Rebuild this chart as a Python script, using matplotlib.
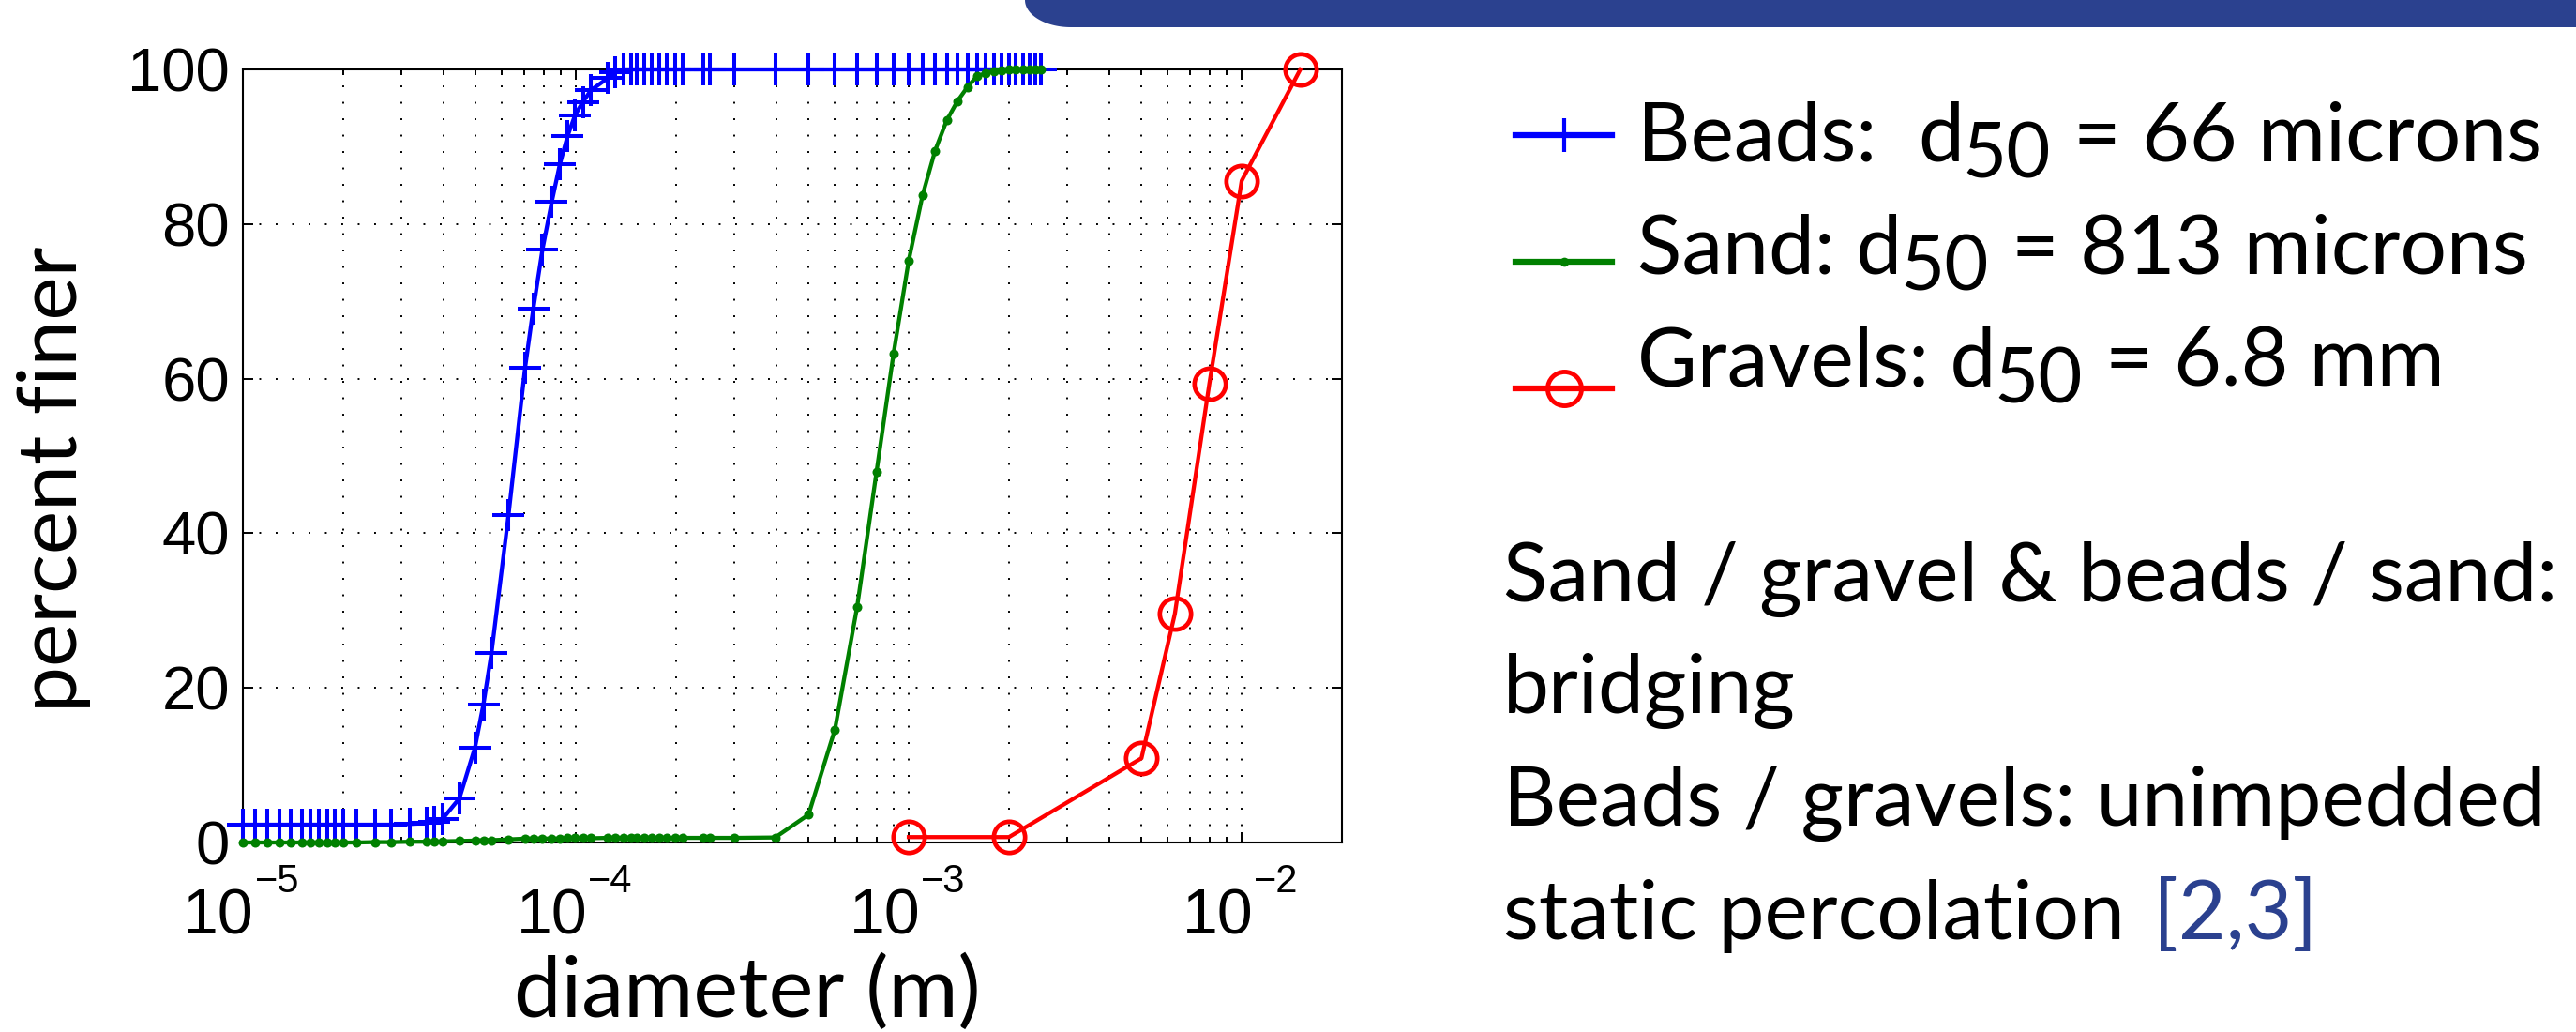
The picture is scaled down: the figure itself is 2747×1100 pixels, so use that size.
import numpy as np
import matplotlib
matplotlib.use('Agg')
import matplotlib.pyplot as plt
from matplotlib.lines import Line2D
from matplotlib.patches import Polygon
from matplotlib.ticker import FixedLocator, LogLocator, NullFormatter

# diameters (m) shared by the beads and sand curves
diam = [1.00e-5, 1.09e-5, 1.18e-5, 1.29e-5, 1.39e-5, 1.50e-5, 1.60e-5, 1.69e-5, 1.79e-5, 1.89e-5,
        2.00e-5, 2.19e-5, 2.50e-5, 2.79e-5, 3.18e-5, 3.56e-5, 3.76e-5, 3.97e-5,
        4.47e-5, 4.98e-5, 5.28e-5, 5.58e-5, 6.28e-5, 7.04e-5, 7.45e-5, 7.94e-5,
        8.47e-5, 8.95e-5, 9.45e-5, 9.95e-5, 1.05e-4, 1.11e-4, 1.25e-4, 1.31e-4,
        1.39e-4, 1.47e-4, 1.52e-4, 1.60e-4, 1.69e-4, 1.78e-4, 1.88e-4, 1.99e-4,
        2.10e-4, 2.42e-4, 2.52e-4, 2.99e-4, 3.97e-4, 5.0e-4, 6.0e-4, 7.0e-4,
        8.0e-4, 9.0e-4, 1.0e-3, 1.1e-3, 1.2e-3, 1.3e-3, 1.4e-3, 1.5e-3,
        1.6e-3, 1.7e-3, 1.8e-3, 1.9e-3, 2.0e-3, 2.1e-3, 2.2e-3, 2.3e-3, 2.4e-3, 2.5e-3]

beads = [2.3, 2.3, 2.3, 2.3, 2.3, 2.3, 2.3, 2.3, 2.3, 2.3,
         2.3, 2.3, 2.3, 2.3, 2.4, 2.5, 2.7, 3.0,
         5.7, 12.3, 17.9, 24.5, 42.4, 61.4, 69.0, 76.7,
         82.9, 87.7, 91.4, 94.1, 95.8, 97.3, 98.9, 99.6,
         100, 100, 100, 100, 100, 100, 100, 100,
         100, 100, 100, 100, 100, 100, 100, 100,
         100, 100, 100, 100, 100, 100, 100, 100,
         100, 100, 100, 100, 100, 100, 100, 100, 100, 100]

sand = [0, 0, 0, 0, 0, 0, 0, 0, 0, 0,
        0, 0, 0.05, 0.05, 0.1, 0.1, 0.1, 0.15,
        0.2, 0.25, 0.3, 0.3, 0.4, 0.5, 0.5, 0.5,
        0.5, 0.5, 0.55, 0.55, 0.55, 0.55, 0.6, 0.6,
        0.6, 0.6, 0.6, 0.6, 0.6, 0.6, 0.6, 0.6,
        0.6, 0.6, 0.6, 0.6, 0.65, 3.6, 14.6, 30.5,
        47.9, 63.2, 75.3, 83.7, 89.5, 93.4, 95.9, 97.7,
        99.1, 99.5, 99.8, 99.9, 100, 100, 100, 100, 100, 100]

gravel_d = [1e-3, 2e-3, 5e-3, 6.3e-3, 8e-3, 1e-2, 1.5e-2]
gravel_pct = [0.7, 0.7, 10.9, 29.6, 59.4, 85.6, 100]

x_major = [1e-5, 1e-4, 1e-3, 1e-2]
y_major = [0, 20, 40, 60, 80, 100]

legend_rows = [("Beads:  d", "50", "= 66 microns"),
               ("Sand: d", "50", "= 813 microns"),
               ("Gravels: d", "50", "= 6.8 mm")]
notes = ["Sand / gravel & beads / sand:", "bridging",
         "Beads / gravels: unimpedded", "static percolation"]
ref_text = "[2,3]"

blue = (0, 0, 1)
green = (0, 0.5, 0)
red = (1, 0, 0)
navy = '#2b418f'

W, H = 2747, 1100
plt.rcParams['font.family'] = 'Liberation Sans'


def fx(x):
    return x / W


def fy(y):  # y measured in pixels from the top
    return 1 - y / H


fig = plt.figure(figsize=(W / 100, H / 100), dpi=100)
ax = fig.add_axes([fx(259), fy(898), (1431 - 259) / W, (898 - 74) / H])

ax.plot(diam, beads, '-', color=blue, lw=3.1, marker='+', ms=24, mew=2.9,
        clip_on=False, zorder=3)
ax.plot(diam, sand, '-', color=green, lw=3.1, marker='o', ms=7.2, mew=0,
        clip_on=False, zorder=4)
ax.plot(gravel_d, gravel_pct, '-', color=red, lw=3.1, marker='o', ms=24,
        mfc='none', mew=3.4, clip_on=False, zorder=5)

ax.set_xscale('log')
ax.set_xlim(1e-5, 2e-2)
ax.set_ylim(0, 100)
ax.set_yticks(y_major)
ax.xaxis.set_major_locator(FixedLocator(x_major))
ax.xaxis.set_minor_locator(LogLocator(base=10, subs=np.arange(2, 10), numticks=20))
ax.xaxis.set_minor_formatter(NullFormatter())
ax.tick_params(which='both', direction='in', top=True, right=True, width=1.4)
ax.tick_params(which='major', length=8, labelsize=47)
ax.tick_params(which='minor', length=4.3)
ax.tick_params(axis='y', pad=10)
ax.tick_params(axis='x', labelbottom=False)
ax.grid(True, which='major', color='k', ls=(0, (1, 8)), lw=1.4)
ax.grid(True, which='minor', axis='x', color='k', ls=(0, (1, 8)), lw=1.4)
for s in ax.spines.values():
    s.set_linewidth(1.5)

# MATLAB-style exponent labels: big "10" and a small raised exponent
xtr = ax.get_xaxis_transform()
for v in x_major:
    e = int(round(np.log10(v)))
    ax.annotate('10', xy=(v, 0), xycoords=xtr, xytext=(12, -97),
                textcoords='offset pixels', ha='right', va='baseline', fontsize=49)
    ax.annotate('\u2212%d' % abs(e), xy=(v, 0), xycoords=xtr, xytext=(13, -53),
                textcoords='offset pixels', ha='left', va='baseline', fontsize=30)

ax.set_ylabel('percent finer', fontname='Lato', fontsize=63)
ax.yaxis.set_label_coords(-0.138, 0.47)
ax.set_xlabel('diameter (m)', fontname='Lato', fontsize=65)
ax.xaxis.label.set_va('baseline')
ax.xaxis.set_label_coords(0.459, -0.2257)

# banner at the top right
t = np.linspace(0, np.pi / 2, 40)
bx = list(1142 - 49 * np.cos(t)) + [W, W]
by = list(29 * np.sin(t)) + [29, 0]
fig.add_artist(Polygon(np.column_stack([fx(np.array(bx)), fy(np.array(by))]),
                       closed=True, fc=navy, ec='none', transform=fig.transFigure))

# legend keys
key_y = [144, 279, 414]
key_style = [dict(color=blue, marker='+', ms=26, mew=3),
             dict(color=green, marker='o', ms=7, mew=0),
             dict(color=red, marker='o', ms=26, mew=3.5, mfc='none')]
for y, st in zip(key_y, key_style):
    fig.add_artist(Line2D([fx(1616), fx(1719)], [fy(y), fy(y)], lw=4.5,
                          color=st['color'], transform=fig.transFigure))
    fig.add_artist(Line2D([fx(1668)], [fy(y)], ls='none', transform=fig.transFigure, **st))

renderer = fig.canvas.get_renderer()
fs = 63
text_y = [172, 292, 412]
for y, (pre, sub, post) in zip(text_y, legend_rows):
    t1 = fig.text(fx(1746), fy(y), pre, fontname='Lato', fontsize=fs, va='baseline')
    bb = t1.get_window_extent(renderer)
    t2 = fig.text(fx(bb.x1 - 2), fy(y + 18), sub, fontname='Lato', fontsize=fs * 0.93,
                  va='baseline')
    bb2 = t2.get_window_extent(renderer)
    fig.text(fx(bb2.x1 + 24), fy(y), post, fontname='Lato', fontsize=fs, va='baseline')

note_y = [641, 760, 880, 1001]
for y, line in zip(note_y, notes):
    tn = fig.text(fx(1603), fy(y), line, fontname='Lato', fontsize=fs, va='baseline')
bb = tn.get_window_extent(renderer)
fig.text(fx(bb.x1 + 30), fy(1001), ref_text, fontname='Lato', fontsize=fs,
         va='baseline', color=navy)

fig.savefig('out.png', dpi=100)
